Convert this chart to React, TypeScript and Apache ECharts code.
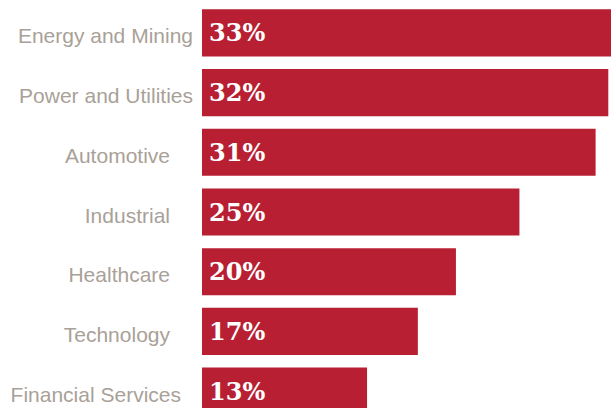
import React, { useEffect, useRef } from "react";
import * as echarts from "echarts";

const categories = [
  "Energy and Mining",
  "Power and Utilities",
  "Automotive",
  "Industrial",
  "Healthcare",
  "Technology",
  "Financial Services",
];
const values = [33, 32, 31, 25, 20, 17, 13];
const labelRightPad = [0, 0, 23, 23, 23, 23, 12];

export default function App() {
  const ref = useRef<HTMLDivElement>(null);
  useEffect(() => {
    if (!ref.current) return;
    const chart = echarts.init(ref.current, null, { renderer: "svg" });
    chart.setOption({
      animation: false,
      grid: { left: 202, right: 0, top: 3, bottom: 0, containLabel: false },
      xAxis: {
        type: "value",
        min: 0,
        max: 33,
        show: false,
      },
      yAxis: {
        type: "category",
        inverse: true,
        data: categories.map((c, i) => ({
          value: c,
          textStyle: { padding: [0, labelRightPad[i], 0, 0] },
        })),
        axisLine: { show: false },
        axisTick: { show: false },
        splitLine: { show: false },
        axisLabel: {
          margin: 9,
          color: "#A9A198",
          fontFamily: "Liberation Sans, Arial, sans-serif",
          fontSize: 21,
          formatter: (v: string) => `{s| }\n{t|${v}}`,
          rich: {
            s: { fontSize: 1, lineHeight: 6 },
            t: {
              fontSize: 21,
              lineHeight: 24,
              color: "#A9A198",
              fontFamily: "Liberation Sans, Arial, sans-serif",
            },
          },
        },
      },
      series: [
        {
          type: "bar",
          data: values,
          barCategoryGap: "21%",
          itemStyle: { color: "#B81F33" },
          label: {
            show: true,
            position: "insideLeft",
            distance: 7,
            formatter: "{c}%",
            color: "#FFFFFF",
            fontFamily: "DejaVu Serif, serif",
            fontWeight: "bold",
            fontSize: 24,
          },
        },
      ],
    });
    return () => chart.dispose();
  }, []);
  return (
    <div
      style={{
        position: "absolute",
        left: 0,
        top: 0,
        width: 611,
        height: 408,
        overflow: "hidden",
        background: "#fff",
      }}
    >
      <div ref={ref} style={{ width: 621, height: 421 }} />
    </div>
  );
}
